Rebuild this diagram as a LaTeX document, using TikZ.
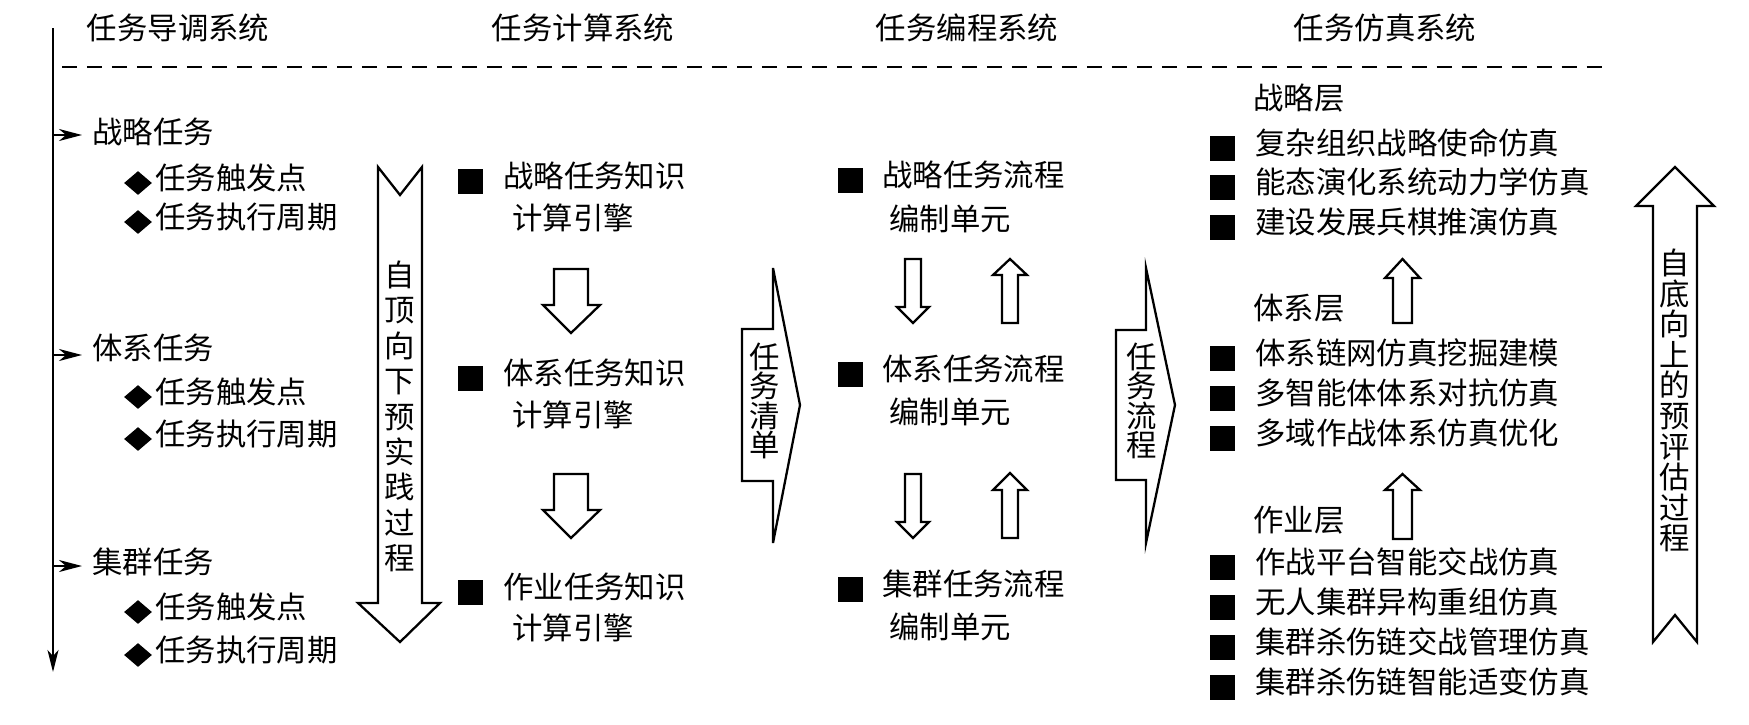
\documentclass[tikz,border=0pt]{standalone}
\usepackage{fontspec}
\setmainfont{Noto Sans CJK SC}
\usetikzlibrary{arrows.meta,shapes.geometric}
\begin{document}
\begin{tikzpicture}[x=0.02cm,y=-0.02cm,
  txt/.style={inner sep=0pt, text height=0.74em, text depth=0pt, font=\fontsize{17.3}{20}\selectfont, anchor=west},
  ctxt/.style={txt, anchor=center},
  sq/.style={fill=black, draw=none, minimum size=0.5cm, inner sep=0pt},
  dia/.style={diamond, fill=black, draw=none, minimum width=0.56cm, minimum height=0.48cm, inner sep=0pt},
  blk/.style={draw=black, fill=white, line width=1.3pt, line join=miter},
  thin arrow/.style={line width=1.1pt, shorten >=0.2cm, -{Stealth[length=0.46cm,width=0.24cm,inset=0.14cm]}},
]
\useasboundingbox (0,0) rectangle (1749,724);
\fill[white] (0,0) rectangle (1749,724);

% headers
\node[ctxt] (h1) at (178,33) {任务导调系统};
\node[ctxt] (h2) at (583,33) {任务计算系统};
\node[ctxt] (h3) at (967,33) {任务编程系统};
\node[ctxt] (h4) at (1385,33) {任务仿真系统};
\coordinate (dl) at (62,67);
\coordinate (dr) at (1607,67);
\draw[line width=1.1pt, dash pattern=on 0.3cm off 0.2cm] (dl) -- (dr);

% timeline
\coordinate (vtop) at (53,28);
\coordinate (vbot) at (53,672);
\draw[line width=1.1pt, -{Stealth[length=0.44cm,width=0.22cm,inset=0.12cm]}] (vtop) -- (vbot);

% column 1
\node[txt] (a1) at (92,137) {战略任务};
\node[dia] (a1d1) at (138,183) {}; \node[txt] (a1t1) at (155,183) {任务触发点};
\node[dia] (a1d2) at (138,222) {}; \node[txt] (a1t2) at (155,222) {任务执行周期};
\node[txt] (b1) at (92,353) {体系任务};
\node[dia] (b1d1) at (138,397) {}; \node[txt] (b1t1) at (155,397) {任务触发点};
\node[dia] (b1d2) at (138,439) {}; \node[txt] (b1t2) at (155,439) {任务执行周期};
\node[txt] (c1) at (92,567) {集群任务};
\node[dia] (c1d1) at (138,612) {}; \node[txt] (c1t1) at (155,612) {任务触发点};
\node[dia] (c1d2) at (138,655) {}; \node[txt] (c1t2) at (155,655) {任务执行周期};
\coordinate (va) at (53,135);
\coordinate (vb) at (53,355);
\coordinate (vc) at (53,566);
\draw[thin arrow] (va) -- (va -| a1.west);
\draw[thin arrow] (vb) -- (vb -| b1.west);
\draw[thin arrow] (vc) -- (vc -| c1.west);

% big down arrow
\draw[blk] (378,167) -- (400,195) -- (422,167) -- (422,603) -- (440,603) -- (400,642) -- (358,603) -- (378,603) -- cycle;
\foreach \c [count=\i] in {自,顶,向,下,预,实,践,过,程}
  \node[ctxt] (dv\i) at (400,{280+(\i-1)*35.4}) {\c};

% column 2
\node[sq] (k1s) at (470,181) {}; \node[txt] (k1a) at (503,181) {战略任务知识}; \node[txt] (k1b) at (512,223) {计算引擎};
\node[sq] (k2s) at (470,378) {}; \node[txt] (k2a) at (503,378) {体系任务知识}; \node[txt] (k2b) at (512,420) {计算引擎};
\node[sq] (k3s) at (470,592) {}; \node[txt] (k3a) at (503,592) {作业任务知识}; \node[txt] (k3b) at (512,633) {计算引擎};
\draw[blk] (554,269) -- (588,269) -- (588,305) -- (600,305) -- (571,333) -- (543,305) -- (554,305) -- cycle;
\draw[blk] (554,474) -- (588,474) -- (588,510) -- (600,510) -- (571,538) -- (543,510) -- (554,510) -- cycle;

% chevron 1
\draw[blk] (742,329) -- (773,329) -- (773,268) -- (800,405) -- (773,543) -- (773,481) -- (742,481) -- cycle;
\foreach \c [count=\i] in {任,务,清,单}
  \node[ctxt] (cl\i) at (765,{362+(\i-1)*29.3}) {\c};

% column 3
\node[sq] (p1s) at (850,180) {}; \node[txt] (p1a) at (882,180) {战略任务流程}; \node[txt] (p1b) at (889,224) {编制单元};
\node[sq] (p2s) at (850,374) {}; \node[txt] (p2a) at (882,374) {体系任务流程}; \node[txt] (p2b) at (889,417) {编制单元};
\node[sq] (p3s) at (850,589) {}; \node[txt] (p3a) at (882,589) {集群任务流程}; \node[txt] (p3b) at (889,632) {编制单元};
\draw[blk] (905,259) -- (921,259) -- (921,307) -- (929,307) -- (913,323) -- (897,307) -- (905,307) -- cycle;
\draw[blk] (905,474) -- (921,474) -- (921,522) -- (929,522) -- (913,538) -- (897,522) -- (905,522) -- cycle;
\draw[blk] (1002,323) -- (1018,323) -- (1018,275) -- (1027,275) -- (1010,259) -- (993,275) -- (1002,275) -- cycle;
\draw[blk] (1002,538) -- (1018,538) -- (1018,490) -- (1027,490) -- (1010,473) -- (993,490) -- (1002,490) -- cycle;

% chevron 2
\draw[blk] (1116,330) -- (1146,330) -- (1146,268) -- (1175,405) -- (1146,543) -- (1146,480) -- (1116,480) -- cycle;
\foreach \c [count=\i] in {任,务,流,程}
  \node[ctxt] (cf\i) at (1142,{362+(\i-1)*29.3}) {\c};

% column 4
\node[txt] (L1) at (1253,103) {战略层};
\node[sq] (s11) at (1222,148) {}; \node[txt] (t11) at (1255,148) {复杂组织战略使命仿真};
\node[sq] (s12) at (1222,187) {}; \node[txt] (t12) at (1255,187) {能态演化系统动力学仿真};
\node[sq] (s13) at (1222,227) {}; \node[txt] (t13) at (1255,227) {建设发展兵棋推演仿真};
\node[txt] (L2) at (1253,313) {体系层};
\node[sq] (s21) at (1222,358) {}; \node[txt] (t21) at (1255,358) {体系链网仿真挖掘建模};
\node[sq] (s22) at (1222,398) {}; \node[txt] (t22) at (1255,398) {多智能体体系对抗仿真};
\node[sq] (s23) at (1222,438) {}; \node[txt] (t23) at (1255,438) {多域作战体系仿真优化};
\node[txt] (L3) at (1253,525) {作业层};
\node[sq] (s31) at (1222,567) {}; \node[txt] (t31) at (1255,567) {作战平台智能交战仿真};
\node[sq] (s32) at (1222,607) {}; \node[txt] (t32) at (1255,607) {无人集群异构重组仿真};
\node[sq] (s33) at (1222,647) {}; \node[txt] (t33) at (1255,647) {集群杀伤链交战管理仿真};
\node[sq] (s34) at (1222,687) {}; \node[txt] (t34) at (1255,687) {集群杀伤链智能适变仿真};
\draw[blk] (1393,323) -- (1412,323) -- (1412,278) -- (1420,278) -- (1402.5,259) -- (1385,278) -- (1393,278) -- cycle;
\draw[blk] (1393,539) -- (1412,539) -- (1412,490) -- (1420,490) -- (1402.5,474) -- (1385,490) -- (1393,490) -- cycle;

% big up arrow
\draw[blk] (1653,642) -- (1675,615) -- (1697,642) -- (1697,206) -- (1714,206) -- (1675,167) -- (1636,206) -- (1653,206) -- cycle;
\foreach \c [count=\i] in {自,底,向,上,的,预,评,估,过,程}
  \node[ctxt] (uv\i) at (1675,{268+(\i-1)*30.6}) {\c};
\end{tikzpicture}
\end{document}
